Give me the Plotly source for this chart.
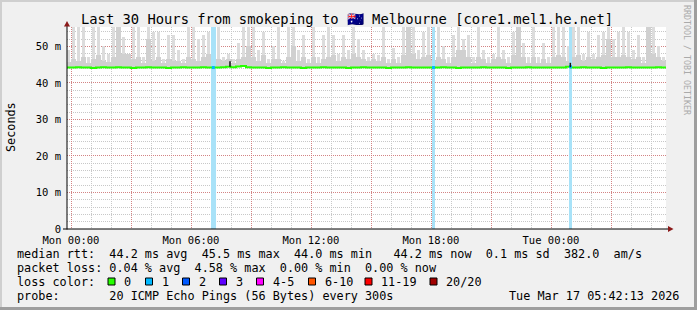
import plotly.graph_objects as go
import pandas as pd

# ---------------- data ----------------
bucket_start = "2026-03-15 23:45"   # 15-minute buckets
smoke_hi = [49, 55.3, 55.3, 55.3, 47, 55.3, 55.3, 50, 48, 55.3,
            55.3, 52.5, 48, 55.3, 55.3, 47, 55.3, 54, 54, 46.5,
            53, 53, 49, 46.5, 55.3, 55.3, 52, 53, 54, 50,
            55.3, 47, 48, 46.5, 51, 55.3, 55.3, 55.3, 49, 54,
            46.5, 50, 55.3, 46, 55.3, 55.3, 49, 53, 46.5, 55.3,
            47, 53, 55.3, 53, 48, 53, 49, 55.3, 52, 49,
            47, 48, 47.5, 55.3, 46.5, 49.5, 47, 55.3, 55.3, 55.3,
            49, 54, 55.3, 50, 55.3, 50, 47, 53, 55.3, 52,
            53, 47, 55.3, 49, 47, 48, 55.3, 49, 47, 54,
            55.3, 51, 47, 55.3, 47, 51, 47, 55.3, 55.3, 55.3,
            50, 55.3, 55.3, 48, 54, 48, 53, 54, 55.3, 52,
            54, 55.3, 54, 49, 53, 47, 55.3, 55.3, 50, 47]
smoke_mid = [45.6, 46.5, 46, 47, 45.5, 46.5, 47.5, 46, 45.8, 47,
             55.3, 48, 48, 46.5, 47, 45.5, 52, 46, 47, 45.5,
             46.5, 46, 46, 45.5, 47, 46.5, 46, 47, 48, 46,
             46.5, 46, 46.5, 45.5, 46.5, 47, 50, 47, 46, 47.5,
             45.5, 46.5, 46.5, 45.5, 47, 50, 46, 47, 45.5, 47,
             45.5, 46.5, 47, 47.5, 46, 47, 46.5, 48, 47, 46.5,
             46, 46.5, 46, 47, 45.5, 46.5, 45.5, 47.5, 55.3, 48,
             46.5, 47, 47.5, 46, 47, 46.5, 45.5, 47, 49, 49,
             47, 45.5, 47, 46.5, 45.5, 46.5, 47, 46.5, 45.5, 47.5,
             55.3, 47, 45.5, 47, 45.5, 46.5, 45.5, 47, 47.5, 47,
             46, 47, 47.5, 46, 47, 46.5, 47, 47.5, 52, 47,
             47, 47.5, 47, 46.5, 47, 45.5, 55.3, 48, 47, 46]
median = [44.2, 44.2, 44.3, 44.2, 44.2, 44.1, 44.2, 44.3, 44.2, 44.2,
          44.3, 44.2, 44.2, 44.1, 44.2, 44.2, 44.3, 44.2, 44.2, 44.2,
          44.1, 44.2, 44.2, 44.3, 44.2, 44.2, 44.2, 44.3, 44.2, 44.2,
          44.2, 44.3, 44.4, 44.3, 44.5, 44.6, 44.3, 44.2, 44.2, 44.2,
          44.1, 44.2, 44.2, 44.3, 44.2, 44.2, 44.2, 44.1, 44.2, 44.2,
          44.2, 44.3, 44.2, 44.2, 44.2, 44.2, 44.1, 44.2, 44.2, 44.3,
          44.2, 44.2, 44.2, 44.2, 44.1, 44.2, 44.2, 44.2, 44.3, 44.2,
          44.2, 44.2, 44.2, 44.2, 44.2, 44.3, 44.2, 44.2, 44.1, 44.2,
          44.2, 44.2, 44.2, 44.3, 44.2, 44.2, 44.2, 44.2, 44.1, 44.2,
          44.2, 44.2, 44.3, 44.2, 44.2, 44.2, 44.2, 44.2, 44.2, 44.2,
          44.4, 44.2, 44.2, 44.3, 44.2, 44.2, 44.2, 44.1, 44.2, 44.2,
          44.2, 44.2, 44.3, 44.2, 44.2, 44.2, 44.2, 44.2, 44.3, 44.2]
loss_start = ["2026-03-16 07:00", "2026-03-16 18:02", "2026-03-17 00:53"]
loss_end = ["2026-03-16 07:14", "2026-03-16 18:13", "2026-03-17 01:04"]
loss_count = [1, 1, 1]
spike_times = ["2026-03-16 07:57", "2026-03-17 00:58"]
spike_top = [45.9, 45.5]
spike_base = [44.4, 44.3]

x_ticks = ["2026-03-16 00:00", "2026-03-16 03:00", "2026-03-16 06:00", "2026-03-16 09:00",
           "2026-03-16 12:00", "2026-03-16 15:00", "2026-03-16 18:00", "2026-03-16 21:00",
           "2026-03-17 00:00", "2026-03-17 03:00"]
x_labels = ["Mon 00:00", "", "Mon 06:00", "", "Mon 12:00", "", "Mon 18:00", "", "Tue 00:00", ""]
y_ticks = [0, 10, 20, 30, 40, 50]
y_labels = ["0", "10 m", "20 m", "30 m", "40 m", "50 m"]

title = "Last 30 Hours from smokeping to 🇦🇺 Melbourne [core1.mel1.he.net]"
legend_rows = [
    "median rtt:  44.2 ms avg  45.5 ms max  44.0 ms min   44.2 ms now  0.1 ms sd  382.0  am/s",
    "packet loss: 0.04 % avg  4.58 % max  0.00 % min  0.00 % now",
    "loss color:",
    "probe:       20 ICMP Echo Pings (56 Bytes) every 300s",
]
loss_labels = ["0", "1", "2", "3", "4-5", "6-10", "11-19", "20/20"]
loss_colors = ["#26ff00", "#00b8ff", "#0059ff", "#5e00ff", "#ff00ff", "#ff5500", "#ff0000", "#a10000"]
loss_bg_colors = ["#ffffff", "#a8e2f8", "#a9c4f8", "#c4a8f8", "#f8a8f8", "#f8c4a8", "#f8a8a8", "#dca8a8"]
stamp = "Tue Mar 17 05:42:13 2026"

# ---------------- geometry / style ----------------
W, H = 697, 310
L, R, T, B = 67, 31, 27, 81
PW, PH = W - L - R, H - T - B
MONO = "DejaVu Sans Mono"


def px(x):
    return (x - L) / PW


def py(y):
    return (H - B - y) / PH


times = pd.date_range(bucket_start, periods=len(smoke_hi), freq="15min")
centers = times + pd.Timedelta(minutes=7.5)
step_ms = 15 * 60 * 1000
spike_ms = 9 * 60 * 1000

fig = go.Figure()
# outer smoke: narrow spikes
fig.add_trace(go.Bar(x=centers, y=[h - m for h, m in zip(smoke_hi, median)], base=median,
                     width=spike_ms, marker=dict(color="#dcdcdc", line=dict(width=0)),
                     hoverinfo="skip"))
# inner smoke: continuous band
fig.add_trace(go.Bar(x=centers, y=[h - m for h, m in zip(smoke_mid, median)], base=median,
                     width=step_ms, marker=dict(color="#d0d0d0", line=dict(width=0)),
                     hoverinfo="skip"))

ls = pd.to_datetime(loss_start)
le = pd.to_datetime(loss_end)
lc = [loss_bg_colors[c] for c in loss_count]
fig.add_trace(go.Bar(x=ls + (le - ls) / 2, y=[55.3] * len(ls), base=0,
                     width=[(e - s).total_seconds() * 1000 for s, e in zip(ls, le)],
                     marker=dict(color=lc, line=dict(width=0)), hoverinfo="skip"))

# median line (hv steps)
mx = list(times) + [times[-1] + pd.Timedelta(minutes=15)]
my = median + [median[-1]]
fig.add_trace(go.Scatter(x=mx, y=my, mode="lines", line=dict(color="#26ff00", width=2, shape="hv"),
                         hoverinfo="skip"))
# median coloured by loss during loss periods
lmx = ls + (le - ls) / 2
lmy = [median[int((t - times[0]) / pd.Timedelta(minutes=15))] for t in lmx]
fig.add_trace(go.Scatter(x=lmx, y=lmy, mode="markers",
                         marker=dict(color=[loss_colors[c] for c in loss_count], size=3, symbol="square"),
                         hoverinfo="skip"))
# small dark spikes
sx, sy = [], []
for t, b0, t0 in zip(pd.to_datetime(spike_times), spike_base, spike_top):
    sx += [t, t, None]
    sy += [b0, t0, None]
fig.add_trace(go.Scatter(x=sx, y=sy, mode="lines", line=dict(color="#111111", width=1.5),
                         hoverinfo="skip"))

shapes = []
# frame
shapes.append(dict(type="rect", xref="paper", yref="paper", x0=px(0), x1=px(W), y0=py(0), y1=py(2),
                   fillcolor="#cfcfcf", line_width=0, layer="above"))
shapes.append(dict(type="rect", xref="paper", yref="paper", x0=px(0), x1=px(2), y0=py(0), y1=py(H),
                   fillcolor="#cfcfcf", line_width=0, layer="above"))
shapes.append(dict(type="rect", xref="paper", yref="paper", x0=px(0), x1=px(W), y0=py(H - 3), y1=py(H),
                   fillcolor="#9e9e9e", line_width=0, layer="above"))
shapes.append(dict(type="rect", xref="paper", yref="paper", x0=px(W - 3), x1=px(W), y0=py(0), y1=py(H),
                   fillcolor="#9e9e9e", line_width=0, layer="above"))
# axes
shapes.append(dict(type="line", xref="paper", yref="paper", x0=px(67), x1=px(67), y0=py(229.5), y1=py(25),
                   line=dict(color="#000000", width=1), layer="above"))
shapes.append(dict(type="line", xref="paper", yref="paper", x0=px(63), x1=px(669), y0=py(229), y1=py(229),
                   line=dict(color="#000000", width=1), layer="above"))
shapes.append(dict(type="path", xref="paper", yref="paper",
                   path=f"M {px(64)} {py(26.5)} L {px(70)} {py(26.5)} L {px(67)} {py(21)} Z",
                   fillcolor="#8b1a1a", line_width=0, layer="above"))
shapes.append(dict(type="path", xref="paper", yref="paper",
                   path=f"M {px(668)} {py(226)} L {px(668)} {py(232)} L {px(673.5)} {py(229)} Z",
                   fillcolor="#8b1a1a", line_width=0, layer="above"))

annotations = []
annotations.append(dict(text=title, x=px(347), y=py(19), xref="paper", yref="paper",
                        xanchor="center", yanchor="middle", showarrow=False,
                        font=dict(family=MONO, size=13.8, color="#000000")))
annotations.append(dict(text="Seconds", x=px(11), y=py(127), xref="paper", yref="paper",
                        xanchor="center", yanchor="middle", showarrow=False, textangle=-90,
                        font=dict(family=MONO, size=11.8, color="#000000")))
annotations.append(dict(text="RRDTOOL / TOBI OETIKER", x=px(687), y=py(60), xref="paper", yref="paper",
                        xanchor="center", yanchor="middle", showarrow=False, textangle=90,
                        font=dict(family=MONO, size=8.3, color="#aaaaaa")))
row_y = [254, 268, 282, 296]
for txt, yy in zip(legend_rows, row_y):
    annotations.append(dict(text=txt.replace(" ", "\u00a0"), x=px(15), y=py(yy), xref="paper", yref="paper",
                            xanchor="left", yanchor="middle", showarrow=False,
                            font=dict(family=MONO, size=11.8, color="#000000")))
annotations.append(dict(text=stamp, x=px(681), y=py(296), xref="paper", yref="paper",
                        xanchor="right", yanchor="middle", showarrow=False,
                        font=dict(family=MONO, size=11.8, color="#000000")))
box_x = [108, 145.5, 182.5, 219.5, 256.5, 308.5, 365, 430]
for bx, lab, col in zip(box_x, loss_labels, loss_colors):
    shapes.append(dict(type="rect", xref="paper", yref="paper", x0=px(bx), x1=px(bx + 7),
                       y0=py(285), y1=py(278), fillcolor=col, line=dict(color="#000000", width=1),
                       layer="above"))
    annotations.append(dict(text=lab, x=px(bx + 14), y=py(282), xref="paper", yref="paper",
                            xanchor="left", yanchor="middle", showarrow=False,
                            font=dict(family=MONO, size=11.8, color="#000000")))

grid_major = "rgba(215,110,110,0.75)"
grid_minor = "#c8c8c8"
fig.update_layout(
    width=W, height=H, margin=dict(l=L, r=R, t=T, b=B, pad=0),
    paper_bgcolor="#f0f0f0", plot_bgcolor="#ffffff",
    barmode="overlay", bargap=0, showlegend=False,
    shapes=shapes, annotations=annotations,
    xaxis=dict(type="date", range=["2026-03-15 23:48", "2026-03-17 05:45"],
               tickmode="array", tickvals=x_ticks, ticktext=x_labels, ticks="",
               showgrid=True, gridcolor=grid_major, griddash="1px,1px", gridwidth=1,
               minor=dict(tick0="2026-03-16 00:00", dtick=3600000, showgrid=True,
                          gridcolor=grid_minor, griddash="1px,1px", gridwidth=1, ticks=""),
               showline=False, zeroline=False, fixedrange=True, ticklabelstandoff=3,
               tickfont=dict(family=MONO, size=10.5, color="#000000")),
    yaxis=dict(range=[0, 55.3], tickmode="array", tickvals=y_ticks, ticktext=y_labels, ticks="",
               showgrid=True, gridcolor=grid_major, griddash="1px,1px", gridwidth=1,
               minor=dict(tick0=0, dtick=2, showgrid=True, gridcolor=grid_minor,
                          griddash="1px,1px", gridwidth=1, ticks=""),
               showline=False, zeroline=False, fixedrange=True, ticklabelstandoff=5,
               tickfont=dict(family=MONO, size=10.5, color="#000000")),
)

fig.write_html("out.html")
